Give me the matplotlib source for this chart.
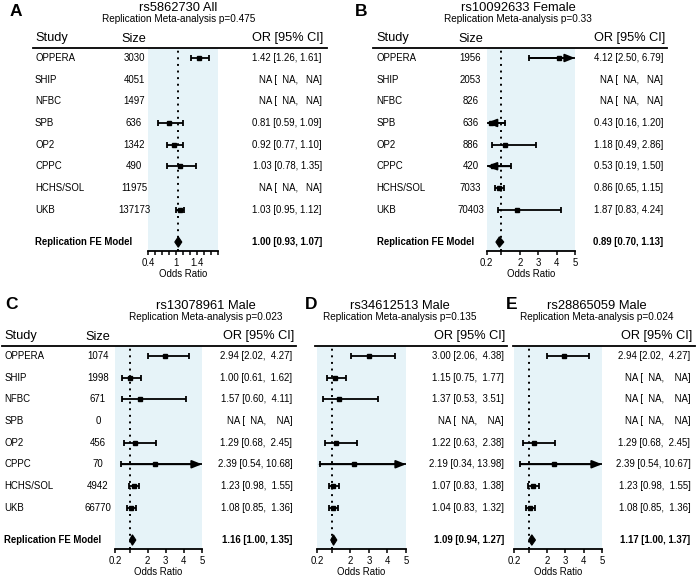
"""
Replication meta-analysis forest plots (5 panels)
"""

import numpy as np
import matplotlib
matplotlib.use("Agg")
import matplotlib.pyplot as plt
from matplotlib.lines import Line2D
from matplotlib.transforms import blended_transform_factory

plt.rcParams["font.family"] = ["Liberation Sans", "DejaVu Sans"]

nan = np.nan
W, H = 697, 577

studies = ["OPPERA", "SHIP", "NFBC", "SPB", "OP2", "CPPC", "HCHS/SOL", "UKB"]

# A: rs5862730 All
a_title = "rs5862730 All"
a_p = "0.475"
a_size = [3030, 4051, 1497, 636, 1342, 490, 11975, 137173]
a_or = [1.42, nan, nan, 0.81, 0.92, 1.03, nan, 1.03]
a_lo = [1.26, nan, nan, 0.59, 0.77, 0.78, nan, 0.95]
a_hi = [1.61, nan, nan, 1.09, 1.10, 1.35, nan, 1.12]
a_fe = [1.00, 0.93, 1.07]

# B: rs10092633 Female
b_title = "rs10092633 Female"
b_p = "0.33"
b_size = [1956, 2053, 826, 636, 886, 420, 7033, 70403]
b_or = [4.12, nan, nan, 0.43, 1.18, 0.53, 0.86, 1.87]
b_lo = [2.50, nan, nan, 0.16, 0.49, 0.19, 0.65, 0.83]
b_hi = [6.79, nan, nan, 1.20, 2.86, 1.50, 1.15, 4.24]
b_fe = [0.89, 0.70, 1.13]

# C: rs13078961 Male
c_title = "rs13078961 Male"
c_p = "0.023"
c_size = [1074, 1998, 671, 0, 456, 70, 4942, 66770]
c_or = [2.94, 1.00, 1.57, nan, 1.29, 2.39, 1.23, 1.08]
c_lo = [2.02, 0.61, 0.60, nan, 0.68, 0.54, 0.98, 0.85]
c_hi = [4.27, 1.62, 4.11, nan, 2.45, 10.68, 1.55, 1.36]
c_fe = [1.16, 1.00, 1.35]

# D: rs34612513 Male
d_title = "rs34612513 Male"
d_p = "0.135"
d_or = [3.00, 1.15, 1.37, nan, 1.22, 2.19, 1.07, 1.04]
d_lo = [2.06, 0.75, 0.53, nan, 0.63, 0.34, 0.83, 0.83]
d_hi = [4.38, 1.77, 3.51, nan, 2.38, 13.98, 1.38, 1.32]
d_fe = [1.09, 0.94, 1.27]

# E: rs28865059 Male
e_title = "rs28865059 Male"
e_p = "0.024"
e_or = [2.94, nan, nan, nan, 1.29, 2.39, 1.23, 1.08]
e_lo = [2.02, nan, nan, nan, 0.68, 0.54, 0.98, 0.85]
e_hi = [4.27, nan, nan, nan, 2.45, 10.67, 1.55, 1.36]
e_fe = [1.17, 1.00, 1.37]

SHADE = "#e6f3f8"
ROW_FS = 6.9
HEAD_FS = 9.2


def fx(px):
    return px / W


def fy(py):
    return 1 - py / H


def fmt_ci(est, lo, hi, wide):
    def f(v, w):
        return ("NA" if np.isnan(v) else f"{v:.2f}").rjust(w)
    return f"{f(est, 4).strip()} [{f(lo, 4)}, {f(hi, 5 if wide else 4)}]"


def draw_panel(fig, p):
    yoff = p["yoff"]
    r8 = 58 + yoff
    sp = 21.65
    ytop, ybot = 8.45, -0.93
    top_px = r8 - (ytop - 8) * sp
    bot_px = r8 + (8 - ybot) * sp
    x0, x1 = p["ax_x"]

    ax = fig.add_axes([fx(x0), fy(bot_px), fx(x1 - x0), (bot_px - top_px) / H])
    ax.set_facecolor(SHADE)
    ax.set_xlim(*p["xlim"])
    ax.set_ylim(ybot, ytop)
    for s in ["top", "left", "right"]:
        ax.spines[s].set_visible(False)
    ax.spines["bottom"].set_linewidth(1.3)
    ax.set_yticks([])
    ax.set_xticks(p["ticks"])
    ax.set_xticklabels(p["ticklabels"], fontsize=ROW_FS)
    ax.tick_params(axis="x", direction="out", length=3, width=1.1, pad=1.5)
    ax.set_xlabel("Odds Ratio", fontsize=ROW_FS, labelpad=1)

    ax.axvline(1, color="k", lw=1.4, linestyle=(0, (1, 2.4)), zorder=1)

    xmin, xmax = p["xlim"]
    rows = np.arange(8, 0, -1)
    est, lo, hi = p["or"], p["lo"], p["hi"]
    wide = any((not np.isnan(v)) and v >= 10 for v in hi)
    arrow = dict(arrowstyle="-|>,head_length=0.5,head_width=0.2",
                 color="k", lw=1.3, shrinkA=0, shrinkB=0, mutation_scale=12)

    for y, e, l, h in zip(rows, est, lo, hi):
        if np.isnan(e):
            continue
        lc, hc = max(l, xmin), min(h, xmax)
        ax.plot([lc, hc], [y, y], color="k", lw=1.3, solid_capstyle="butt", zorder=2)
        if l < xmin:
            ax.annotate("", xy=(xmin, y), xytext=(hc, y), arrowprops=arrow, zorder=3)
        else:
            ax.plot([l], [y], marker="|", ms=5, mew=1.3, color="k", zorder=3)
        if h > xmax:
            ax.annotate("", xy=(xmax, y), xytext=(lc, y), arrowprops=arrow, zorder=3)
        else:
            ax.plot([h], [y], marker="|", ms=5, mew=1.3, color="k", zorder=3)
        ax.plot([e], [y], marker="s", ms=3.3, color="k", zorder=4)

    fe, fl, fh = p["fe"]
    yd, hd = -0.5, 0.24
    ax.fill([fl, fe, fh, fe], [yd, yd + hd, yd, yd - hd], facecolor="k",
            edgecolor="k", lw=0.8, zorder=4)

    # text columns
    tr = blended_transform_factory(fig.transFigure, ax.transData)
    if p.get("size") is not None:
        for y, name, n in zip(rows, studies, p["size"]):
            fig.text(fx(p["study_x"]), y, name, transform=tr, fontsize=ROW_FS,
                     ha="left", va="center")
            fig.text(fx(p["size_x"]), y, str(n), transform=tr, fontsize=ROW_FS,
                     ha="center", va="center")
        fig.text(fx(p["study_x"]), yd, "Replication FE Model", transform=tr,
                 fontsize=ROW_FS, ha="left", va="center", fontweight="bold")
    for y, e, l, h in zip(rows, est, lo, hi):
        fig.text(fx(p["or_x"] - 1.5), y, fmt_ci(e, l, h, wide), transform=tr,
                 fontsize=ROW_FS, ha="right", va="center")
    fig.text(fx(p["or_x"] - 1.5), yd, f"{fe:.2f} [{fl:.2f}, {fh:.2f}]", transform=tr,
             fontsize=ROW_FS, ha="right", va="center", fontweight="bold")

    # headers / titles
    hy = yoff
    fig.text(fx(p["letter_x"]), fy(11 + hy * 0.985), p["letter"], fontsize=12.5,
             fontweight="bold", ha="left", va="center")
    fig.text(fx(p["title_x"]), fy(8 + hy), p["title"], fontsize=9.3,
             ha="center", va="center")
    fig.text(fx(p["title_x"]), fy(19.5 + hy), "Replication Meta-analysis p=" + p["p"],
             fontsize=7.2, ha="center", va="center")
    if p.get("size") is not None:
        fig.text(fx(p["study_x"]), fy(38.5 + hy), "Study", fontsize=HEAD_FS,
                 ha="left", va="center")
        fig.text(fx(p["size_x"]), fy(38.5 + hy), "Size", fontsize=HEAD_FS,
                 ha="center", va="center")
    fig.text(fx(p["or_x"]), fy(38.5 + hy), "OR [95% CI]", fontsize=HEAD_FS,
             ha="right", va="center")
    lx0, lx1 = p["line"]
    fig.add_artist(Line2D([fx(lx0), fx(lx1)], [fy(47.5 + hy)] * 2,
                          transform=fig.transFigure, color="k", lw=1.3))


wide_ticks = [0.2, 1, 2, 3, 4, 5]
wide_labels = ["0.2", "", "2", "3", "4", "5"]
a_ticks = np.linspace(0.4, 1.8, 11)
a_labels = ["0.4", "", "", "", "1", "", "", "1.4", "", "", ""]

panels = [
    dict(letter="A", title=a_title, p=a_p, size=a_size,
         **{"or": a_or}, lo=a_lo, hi=a_hi, fe=a_fe, yoff=0,
         ax_x=(148.3, 218.3), xlim=(0.4, 1.8), ticks=a_ticks, ticklabels=a_labels,
         letter_x=10, title_x=178.5, study_x=35, size_x=134, or_x=323.5, line=(33, 327)),
    dict(letter="B", title=b_title, p=b_p, size=b_size,
         **{"or": b_or}, lo=b_lo, hi=b_hi, fe=b_fe, yoff=0,
         ax_x=(486.7, 575), xlim=(0.2, 5), ticks=wide_ticks, ticklabels=wide_labels,
         letter_x=355, title_x=518, study_x=376.7, size_x=470.5, or_x=665, line=(373, 667)),
    dict(letter="C", title=c_title, p=c_p, size=c_size,
         **{"or": c_or}, lo=c_lo, hi=c_hi, fe=c_fe, yoff=298,
         ax_x=(115, 202), xlim=(0.2, 5), ticks=wide_ticks, ticklabels=wide_labels,
         letter_x=5, title_x=206, study_x=4.5, size_x=98, or_x=294, line=(2, 296)),
    dict(letter="D", title=d_title, p=d_p, size=None,
         **{"or": d_or}, lo=d_lo, hi=d_hi, fe=d_fe, yoff=298,
         ax_x=(317, 406), xlim=(0.2, 5), ticks=wide_ticks, ticklabels=wide_labels,
         letter_x=305, title_x=399.5, or_x=505.5, line=(315, 507)),
    dict(letter="E", title=e_title, p=e_p, size=None,
         **{"or": e_or}, lo=e_lo, hi=e_hi, fe=e_fe, yoff=298,
         ax_x=(514, 602), xlim=(0.2, 5), ticks=wide_ticks, ticklabels=wide_labels,
         letter_x=506, title_x=597, or_x=692, line=(513, 695)),
]

fig = plt.figure(figsize=(W / 100, H / 100), dpi=100)
for p in panels:
    draw_panel(fig, p)

fig.savefig("out.png", dpi=100)
